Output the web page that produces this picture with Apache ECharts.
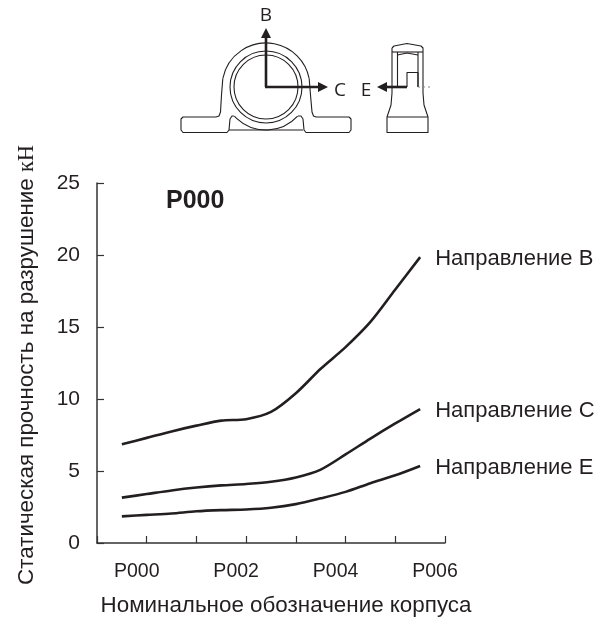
<!DOCTYPE html>
<html><head><meta charset="utf-8">
<style>html,body{margin:0;padding:0;background:#fff}#c{width:610px;height:618px}</style>
<script src="https://cdn.jsdelivr.net/npm/echarts@6/dist/echarts.min.js"></script>
</head><body><div id="c"></div>
<script>
var sizePos = [0.5,1,1.5,2,2.5,3,3.5,4,4.5,5,5.5,6,6.5];
var dirB = [6.85,7.3,7.75,8.15,8.5,8.6,9.1,10.4,12.1,13.6,15.35,17.6,19.85];
var dirC = [3.15,3.4,3.65,3.85,4.0,4.1,4.25,4.55,5.1,6.15,7.25,8.3,9.3];
var dirE = [1.85,1.95,2.05,2.2,2.28,2.33,2.45,2.7,3.1,3.55,4.15,4.7,5.35];
var names = ['Направление B','Направление C','Направление E'];
var tickLabels = {1:'P000',3:'P002',5:'P004',7:'P006'};
var yTitle = 'Статическая прочность на разрушение ';
var yUnit = 'кН';
var xTitle = 'Номинальное обозначение корпуса';
var chartTitle = 'P000';

var ink = '#231f20', sans = '"Liberation Sans", Arial, sans-serif';
function pairs(v){ return v.map(function(y,i){ return [sizePos[i], y]; }); }
function mk(name, vals){
  return {type:'line', name:name, data:pairs(vals), smooth:0.3, symbol:'none',
    lineStyle:{color:ink,width:2.6}, itemStyle:{color:ink},
    endLabel:{show:true, formatter:'{a}', color:ink, fontFamily:sans, fontSize:22, distance:15, offset:[0,2]}};
}
function pl(points, w, extra){
  return Object.assign({type:'polyline', shape:{points:points},
    style:{fill:null, stroke:ink, lineWidth:w||1.1, lineJoin:'round'}}, extra||{});
}
function circ(r){ return {type:'circle', shape:{cx:266,cy:87,r:r}, style:{fill:null,stroke:ink,lineWidth:1.1}}; }
function arc(r,a,b){ return {type:'arc', shape:{cx:266,cy:87,r:r,startAngle:a,endAngle:b,clockwise:true}, style:{fill:null,stroke:ink,lineWidth:1.1}}; }
function tri(p){ return {type:'polygon', shape:{points:p}, style:{fill:ink,stroke:null}}; }
function lab(t,x,y){ return {type:'text', x:x, y:y, style:{text:t, fill:ink, font:'19px "Open Sans"', align:'center', verticalAlign:'middle'}}; }
var diagram = [
  circ(36), circ(32),
  arc(44,Math.PI*1.06,Math.PI*1.94),
  pl([[222.8,78.8],[221.5,95],[220.5,112],[219,116],[216,117]]),
  pl([[216,117],[183,117],[181,119],[181,130],[183,132.5],[227,132.5],[229,130],[230,119],[232,116],[234,116]]),
  arc(43,Math.PI*0.237,Math.PI*0.763),
  pl([[309.2,78.8],[310.5,95],[312,112],[313.5,116],[316,117]]),
  pl([[316,117],[349,117],[351,119],[351,130],[349,132.5],[306,132.5],[304,130],[303,119],[301,116],[298,116]]),
  pl([[229,130],[303,130]]),
  pl([[392,48],[394,46],[407,43.5],[421,46],[423,48],[423,93],[424,105],[428,117],[428,132.5],[387,132.5],[387,117],[391,105],[392,93],[392,48]]),
  pl([[387,117],[428,117]]),
  pl([[392,52],[423,52]]),
  pl([[397.5,52],[397.5,87]]),
  pl([[418,52],[418,87]]),
  pl([[397.5,55],[407,53],[418,55]]),
  pl([[407,87],[407,72.5],[418,72.5],[418,87]]),
  pl([[418,87],[431,87]], 1, {style:{fill:null,stroke:'#888',lineWidth:1,lineDash:[2,3]}}),
  pl([[266,87],[266,38]],2.6), pl([[265,87],[318,87]],2.6), pl([[407,87],[387,87]],2.6),
  tri([[266,28],[261,38],[271,38]]), tri([[328,87],[318,82],[318,92]]), tri([[377,87],[387,82],[387,92]]),
  lab('B',266,16), lab('C',340,91), lab('E',366,91)
];

var chart = echarts.init(document.getElementById('c'), null, {renderer:'canvas'});
chart.setOption({
  animation:false, backgroundColor:'#fff',
  title:{text:chartTitle, left:161, top:184, textStyle:{fontFamily:sans,fontWeight:'bold',fontSize:25,color:ink}},
  grid:{left:97,right:165,top:183,bottom:75,containLabel:false,outerBoundsMode:'none'},
  xAxis:{type:'value',min:0,max:7,interval:1,
    name:xTitle,nameLocation:'middle',nameGap:52,
    nameTextStyle:{fontFamily:sans,fontSize:22.4,color:ink,padding:[0,0,0,30]},
    axisLine:{lineStyle:{color:'#333',width:1.5}},
    axisTick:{inside:true,length:7,lineStyle:{color:'#333',width:1.2}},
    splitLine:{show:false},
    axisLabel:{margin:19,color:ink,fontFamily:sans,fontSize:19.5,showMinLabel:true,showMaxLabel:true,padding:[0,20,0,0],
      formatter:function(v){ return tickLabels[v]||''; }}},
  yAxis:{type:'value',min:0,max:25,interval:5,
    name:'{a|'+yTitle+'}{b|'+yUnit+'}',nameLocation:'middle',nameGap:59,nameRotate:90,
    nameTextStyle:{padding:[0,4,0,0],rich:{a:{fontFamily:sans,fontSize:22.4,color:ink},b:{fontFamily:'"Liberation Serif",serif',fontSize:22.4,color:ink}}},
    axisLine:{show:true,lineStyle:{color:'#333',width:1.5}},
    axisTick:{show:true,inside:true,length:7,lineStyle:{color:'#333',width:1.2}},
    splitLine:{show:false},
    axisLabel:{margin:17,color:ink,fontFamily:sans,fontSize:21}},
  series:[mk(names[0],dirB),mk(names[1],dirC),mk(names[2],dirE)],
  graphic:{elements:diagram}
});
</script></body></html>
